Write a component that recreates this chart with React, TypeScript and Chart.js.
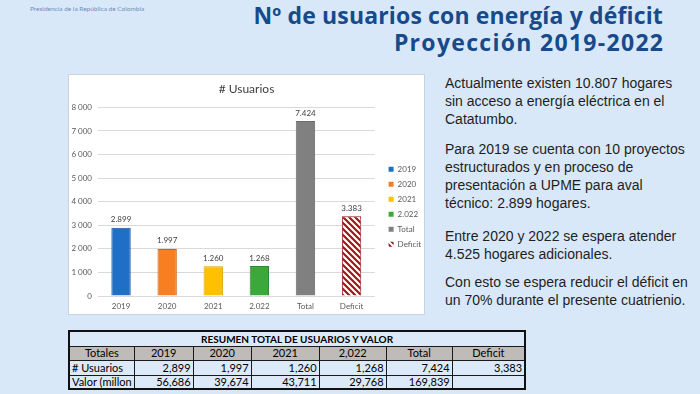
import React, { useEffect, useRef } from "react";
import { Chart, registerables } from "chart.js";

Chart.register(...registerables);

// ---- data ----
const categories = ["2019", "2020", "2021", "2.022", "Total", "Deficit"];
const usuarios = [2899, 1997, 1260, 1268, 7424, 3383];
const barColors = ["#1f6fc6", "#f77e21", "#ffc000", "#3ca83c", "#808080"];
const barBorders = ["#1a4f8f", "#c9651a", "#d9a300", "#2f8a2f", "#6b6b6b"];
const yMax = 8000;
const yStep = 1000;

const tableTitle = "RESUMEN TOTAL DE USUARIOS Y VALOR";
const tableHeaders = ["Totales", "2019", "2020", "2021", "2,022", "Total", "Deficit"];
const rowUsuarios = ["# Usuarios", "2,899", "1,997", "1,260", "1,268", "7,424", "3,383"];
const rowValor = ["Valor (millon", "56,686", "39,674", "43,711", "29,768", "169,839", ""];
const colWidths = [60, 59, 58, 68, 67, 66, 73];

const paragraphs = [
  ["Actualmente existen 10.807 hogares", "sin acceso a energía eléctrica en el", "Catatumbo."],
  ["Para 2019 se cuenta con 10 proyectos", "estructurados y en proceso de", "presentación a UPME para aval", "técnico: 2.899 hogares."],
  ["Entre 2020 y 2022 se espera atender", "4.525 hogares adicionales."],
  ["Con esto se espera reducir el déficit en", "un 70% durante el presente cuatrienio."],
];
const paraTops = [74, 140, 227, 273];

const fmtDot = (n: number) => String(n).replace(/\B(?=(\d{3})+(?!\d))/g, ".");
const fmtSpace = (n: number) => String(n).replace(/\B(?=(\d{3})+(?!\d))/g, " ");

function makeHatch(ctx: CanvasRenderingContext2D) {
  const c = document.createElement("canvas");
  c.width = 6;
  c.height = 6;
  const x = c.getContext("2d")!;
  x.fillStyle = "#ffffff";
  x.fillRect(0, 0, 6, 6);
  x.strokeStyle = "#9a1a1a";
  x.lineWidth = 2.2;
  x.beginPath();
  x.moveTo(-1, -1);
  x.lineTo(7, 7);
  x.moveTo(5, -1);
  x.lineTo(7, 1);
  x.moveTo(-1, 5);
  x.lineTo(1, 7);
  x.stroke();
  return ctx.createPattern(c, "repeat")!;
}

const FONT = "Lato, 'Liberation Sans', sans-serif";

function UsuariosChart() {
  const ref = useRef<HTMLCanvasElement>(null);
  useEffect(() => {
    const canvas = ref.current!;
    const ctx = canvas.getContext("2d")!;
    const hatch = makeHatch(ctx);
    const fills: any[] = [...barColors, hatch];
    const borders = [...barBorders, "#9a1a1a"];

    const valueLabels = {
      id: "valueLabels",
      afterDatasetsDraw(chart: any) {
        const c = chart.ctx;
        const meta = chart.getDatasetMeta(0);
        c.save();
        c.font = `8px ${FONT}`;
        c.fillStyle = "#404040";
        c.textAlign = "center";
        c.textBaseline = "bottom";
        meta.data.forEach((bar: any, i: number) => {
          c.fillText(fmtDot(usuarios[i]), bar.x, bar.y - 4);
        });
        c.restore();
      },
    };
    const legendShift = {
      id: "legendShift",
      afterLayout(chart: any) {
        const l = chart.legend;
        if (l) {
          l.left += 7;
          l.right += 7;
          l.top += 5;
          l.bottom += 5;
        }
      },
    };

    const chart = new Chart(ctx, {
      type: "bar",
      data: {
        labels: categories,
        datasets: [
          {
            data: usuarios,
            backgroundColor: fills,
            borderColor: borders,
            borderWidth: 1,
            barPercentage: 0.84,
            categoryPercentage: 0.5,
          },
        ],
      },
      options: {
        responsive: false,
        animation: false,
        devicePixelRatio: 1,
        layout: { padding: { left: 0, right: 0, top: 0, bottom: 0 } },
        plugins: {
          title: {
            display: true,
            text: "# Usuarios",
            color: "#404040",
            font: { family: FONT, size: 12, weight: "normal" },
            padding: { top: 7, bottom: 11 },
          },
          legend: {
            display: true,
            position: "right",
            fullSize: false,
            labels: {
              boxWidth: 5,
              boxHeight: 5,
              padding: 7,
              color: "#595959",
              font: { family: FONT, size: 8 },
              generateLabels: () =>
                categories.map((c, i) => ({
                  text: c,
                  fillStyle: fills[i],
                  strokeStyle: fills[i],
                  lineWidth: 0,
                  hidden: false,
                  index: i,
                  fontColor: "#595959",
                })),
            },
          },
          tooltip: { enabled: false },
        },
        scales: {
          x: {
            grid: { display: false, drawTicks: false },
            border: { display: false },
            ticks: { color: "#595959", font: { family: FONT, size: 8 }, padding: 6, maxRotation: 0 },
            afterFit: (s: any) => {
              s.height = 18;
            },
          },
          y: {
            min: 0,
            max: yMax,
            ticks: {
              stepSize: yStep,
              color: "#595959",
              font: { family: FONT, size: 8 },
              padding: 6,
              callback: (v: any) => fmtSpace(Number(v)),
            },
            grid: { color: "#d9d9d9", drawTicks: false },
            border: { display: false },
            afterFit: (s: any) => {
              s.width = 29;
            },
          },
        },
      },
      plugins: [valueLabels, legendShift],
    });
    return () => chart.destroy();
  }, []);
  return <canvas ref={ref} width={355} height={239} style={{ display: "block" }} />;
}

export default function App() {
  const cellBorder = "1.5px solid #1a1a1a";
  const cellBase: React.CSSProperties = {
    border: cellBorder,
    padding: "0 2px",
    fontFamily: FONT,
    fontSize: 11,
    color: "#000",
    whiteSpace: "nowrap",
    overflow: "hidden",
    lineHeight: "12px",
  };
  return (
    <div
      style={{
        position: "fixed",
        left: 0,
        top: 0,
        width: 700,
        height: 394,
        overflow: "hidden",
        background: "#d9e8f8",
        fontFamily: "'Liberation Sans', Arial, sans-serif",
      }}
    >
      <div style={{ position: "absolute", left: 30, top: 5, fontFamily: FONT, fontSize: 6.5, color: "#6a90bd" }}>
        Presidencia de la República de Colombia
      </div>
      <div
        style={{
          position: "absolute",
          right: 37,
          top: 2,
          textAlign: "right",
          fontFamily: "'Open Sans', sans-serif",
          fontWeight: 700,
          fontSize: 23,
          lineHeight: "27px",
          color: "#174a8b",
          whiteSpace: "nowrap",
        }}
      >
        <div style={{ letterSpacing: 0.15 }}>Nº de usuarios con energía y déficit</div>
        <div style={{ letterSpacing: 1.3, marginRight: -1.3 }}>Proyección 2019-2022</div>
      </div>

      <div
        style={{
          position: "absolute",
          left: 69,
          top: 75,
          width: 355,
          height: 239,
          background: "#fff",
          boxShadow: "0 0 0 1px #c9d3de",
        }}
      >
        <UsuariosChart />
      </div>

      {paragraphs.map((lines, i) => (
        <div
          key={i}
          style={{
            position: "absolute",
            left: 445,
            top: paraTops[i],
            fontSize: 14,
            lineHeight: "18px",
            color: "#1e1e1e",
            whiteSpace: "nowrap",
          }}
        >
          {lines.map((l, j) => (
            <div key={j}>{l}</div>
          ))}
        </div>
      ))}

      <table
        style={{
          position: "absolute",
          left: 68,
          top: 330,
          borderCollapse: "collapse",
          tableLayout: "fixed",
          border: "2px solid #111",
          background: "#dce9f8",
        }}
      >
        <colgroup>
          {colWidths.map((w, i) => (
            <col key={i} style={{ width: w }} />
          ))}
        </colgroup>
        <tbody>
          <tr style={{ height: 15 }}>
            <td colSpan={7} style={{ ...cellBase, textAlign: "center", fontWeight: 700, fontSize: 10 }}>
              {tableTitle}
            </td>
          </tr>
          <tr style={{ height: 14 }}>
            {tableHeaders.map((h, i) => (
              <td key={i} style={{ ...cellBase, textAlign: "center", background: "#bfbbb8", fontSize: 11 }}>
                {h}
              </td>
            ))}
          </tr>
          <tr style={{ height: 15 }}>
            {rowUsuarios.map((v, i) => (
              <td key={i} style={{ ...cellBase, textAlign: i === 0 ? "left" : "right" }}>
                {v}
              </td>
            ))}
          </tr>
          <tr style={{ height: 14 }}>
            {rowValor.map((v, i) => (
              <td key={i} style={{ ...cellBase, textAlign: i === 0 ? "left" : "right" }}>
                {v}
              </td>
            ))}
          </tr>
        </tbody>
      </table>
    </div>
  );
}
